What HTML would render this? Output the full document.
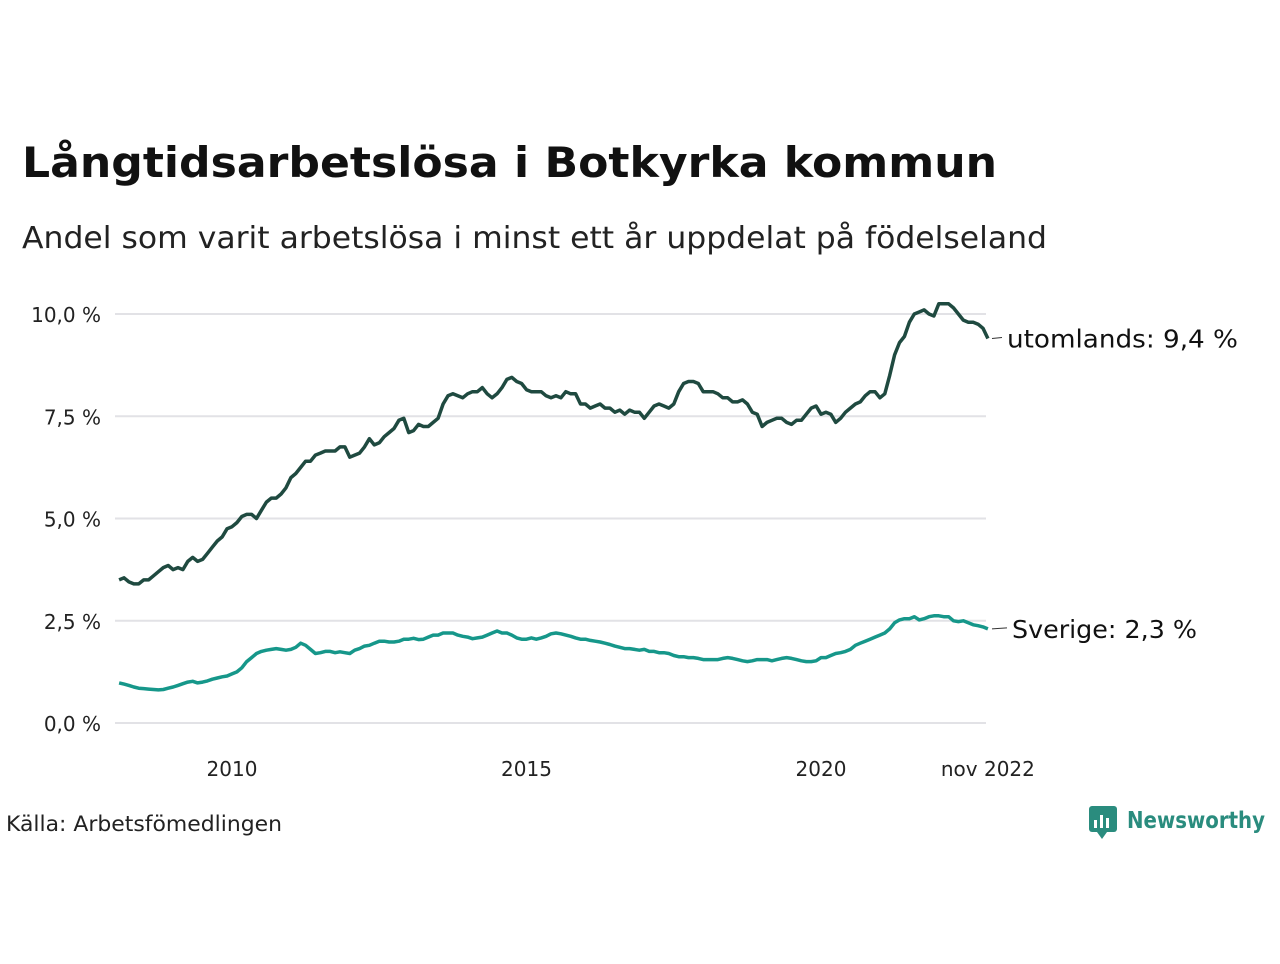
<!DOCTYPE html>
<html><head><meta charset="utf-8"><style>
body{margin:0;background:#fff;font-family:"DejaVu Sans","Liberation Sans",sans-serif;}
svg text{font-family:"DejaVu Sans","Liberation Sans",sans-serif;}
</style></head><body>
<svg width="1280" height="960" xmlns="http://www.w3.org/2000/svg">
<text x="22" y="177" font-size="42" font-weight="bold" fill="#111" textLength="975" lengthAdjust="spacingAndGlyphs">Långtidsarbetslösa i Botkyrka kommun</text>
<text x="22" y="248" font-size="30" fill="#222" textLength="1025" lengthAdjust="spacingAndGlyphs">Andel som varit arbetslösa i minst ett år uppdelat på födelseland</text>
<g id="grid"></g><g id="lines"></g>
<text x="6" y="831" font-size="21" fill="#222" textLength="276" lengthAdjust="spacingAndGlyphs">Källa: Arbetsfömedlingen</text>
<g>
<rect x="1089" y="806" width="28" height="26" rx="3" fill="#2a8c7e"/>
<polygon points="1097,832 1107,832 1102,839" fill="#2a8c7e"/>
<rect x="1094" y="820" width="3" height="8" fill="#fff"/><rect x="1100" y="815" width="3" height="13" fill="#fff"/><rect x="1106" y="818" width="3" height="10" fill="#fff"/>
<text x="1127" y="828" font-size="23" font-weight="bold" fill="#2a8c7e" textLength="138" lengthAdjust="spacingAndGlyphs">Newsworthy</text>
</g>
</svg>
<script>
const yTicks=[0,2.5,5,7.5,10];
const yTickLabels=["0,0 %","2,5 %","5,0 %","7,5 %","10,0 %"];
const xTicks=[2010,2015,2020,2022+10/12];
const xTickLabels=["2010","2015","2020","nov 2022"];
const startYear=2008+1/12;
const utomlands=[3.5,3.55,3.45,3.4,3.4,3.5,3.5,3.6,3.7,3.8,3.85,
3.75,3.8,3.75,3.95,4.05,3.95,4.0,4.15,4.3,4.45,4.55,4.75,
4.8,4.9,5.05,5.1,5.1,5.0,5.2,5.4,5.5,5.5,5.6,5.75,
6.0,6.1,6.25,6.4,6.4,6.55,6.6,6.65,6.65,6.65,6.75,6.75,
6.5,6.55,6.6,6.75,6.95,6.8,6.85,7.0,7.1,7.2,7.4,7.45,
7.1,7.15,7.3,7.25,7.25,7.35,7.45,7.8,8.0,8.05,8.0,7.95,
8.05,8.1,8.1,8.2,8.05,7.95,8.05,8.2,8.4,8.45,8.35,8.3,
8.15,8.1,8.1,8.1,8.0,7.95,8.0,7.95,8.1,8.05,8.05,7.8,
7.8,7.7,7.75,7.8,7.7,7.7,7.6,7.65,7.55,7.65,7.6,7.6,
7.45,7.6,7.75,7.8,7.75,7.7,7.8,8.1,8.3,8.35,8.35,8.3,
8.1,8.1,8.1,8.05,7.95,7.95,7.85,7.85,7.9,7.8,7.6,7.55,
7.25,7.35,7.4,7.45,7.45,7.35,7.3,7.4,7.4,7.55,7.7,7.75,
7.55,7.6,7.55,7.35,7.45,7.6,7.7,7.8,7.85,8.0,8.1,8.1,
7.95,8.05,8.5,9.0,9.3,9.45,9.8,10.0,10.05,10.1,10.0,9.95,
10.25,10.25,10.25,10.15,10.0,9.85,9.8,9.8,9.75,9.65,9.4];
const sverige=[0.98,0.95,0.92,0.88,0.85,0.84,0.83,0.82,0.81,0.82,0.85,
0.88,0.92,0.96,1.0,1.02,0.98,1.0,1.03,1.07,1.1,1.13,1.15,
1.2,1.25,1.35,1.5,1.6,1.7,1.75,1.78,1.8,1.82,1.8,1.78,
1.8,1.85,1.95,1.9,1.8,1.7,1.72,1.75,1.75,1.72,1.74,1.72,
1.7,1.78,1.82,1.88,1.9,1.95,2.0,2.0,1.98,1.98,2.0,2.05,
2.05,2.07,2.04,2.05,2.1,2.15,2.15,2.2,2.2,2.2,2.15,2.12,
2.1,2.06,2.08,2.1,2.15,2.2,2.25,2.2,2.2,2.15,2.08,2.05,
2.05,2.08,2.05,2.08,2.12,2.18,2.2,2.18,2.15,2.12,2.08,2.05,
2.05,2.02,2.0,1.98,1.95,1.92,1.88,1.85,1.82,1.82,1.8,1.78,
1.8,1.75,1.75,1.72,1.72,1.7,1.65,1.62,1.62,1.6,1.6,1.58,
1.55,1.55,1.55,1.55,1.58,1.6,1.58,1.55,1.52,1.5,1.52,1.55,
1.55,1.55,1.52,1.55,1.58,1.6,1.58,1.55,1.52,1.5,1.5,1.52,
1.6,1.6,1.65,1.7,1.72,1.75,1.8,1.9,1.95,2.0,2.05,2.1,
2.15,2.2,2.3,2.45,2.52,2.55,2.55,2.6,2.52,2.55,2.6,2.62,
2.62,2.6,2.6,2.5,2.48,2.5,2.45,2.4,2.38,2.35,2.3];
const NS="http://www.w3.org/2000/svg";
const xS=t=>232+(t-2010)*58.9;
const yS=v=>723-v*40.9;
const grid=document.getElementById('grid'),lines=document.getElementById('lines');
function mk(tag,attrs,parent){const e=document.createElementNS(NS,tag);for(const k in attrs)e.setAttribute(k,attrs[k]);parent.appendChild(e);return e;}
yTicks.forEach((v,i)=>{
 const l=mk('line',{x1:115,x2:986,y1:yS(v),y2:yS(v),stroke:'#e2e2e6','stroke-width':2},grid);
 
 
 const t=mk('text',{x:101,y:yS(v)+8,'text-anchor':'end','font-size':20,fill:'#222'},grid);
 t.textContent=yTickLabels[i];
 
 
});
xTicks.forEach((v,i)=>{
 const t=mk('text',{x:xS(v),y:776,'text-anchor':'middle','font-size':20,fill:'#222'},grid);
 t.textContent=xTickLabels[i];
 
 
});
function series(arr,color,name,label,lx,tl){
 const d=arr.map((v,i)=>(i?'L':'M')+xS(startYear+i/12).toFixed(1)+','+yS(v).toFixed(1)).join('');
 const p=mk('path',{d:d,fill:'none',stroke:color,'stroke-width':3.5,'stroke-linejoin':'round'},lines);
 
 
 const last=arr[arr.length-1],ly=yS(last);
 mk('line',{x1:992,x2:lx-5,y1:ly,y2:ly-1,stroke:'#333','stroke-width':1},lines);
 const t=mk('text',{x:lx,y:ly+9,'font-size':25,fill:'#111',textLength:tl,lengthAdjust:'spacingAndGlyphs'},lines);
 t.textContent=label+': '+last.toFixed(1).replace('.',',')+' %';
 
 
}
series(utomlands,'#1f4a40','utomlands-line','utomlands',1007,231);
series(sverige,'#16978a','sverige-line','Sverige',1012,185);
</script>
</body></html>
